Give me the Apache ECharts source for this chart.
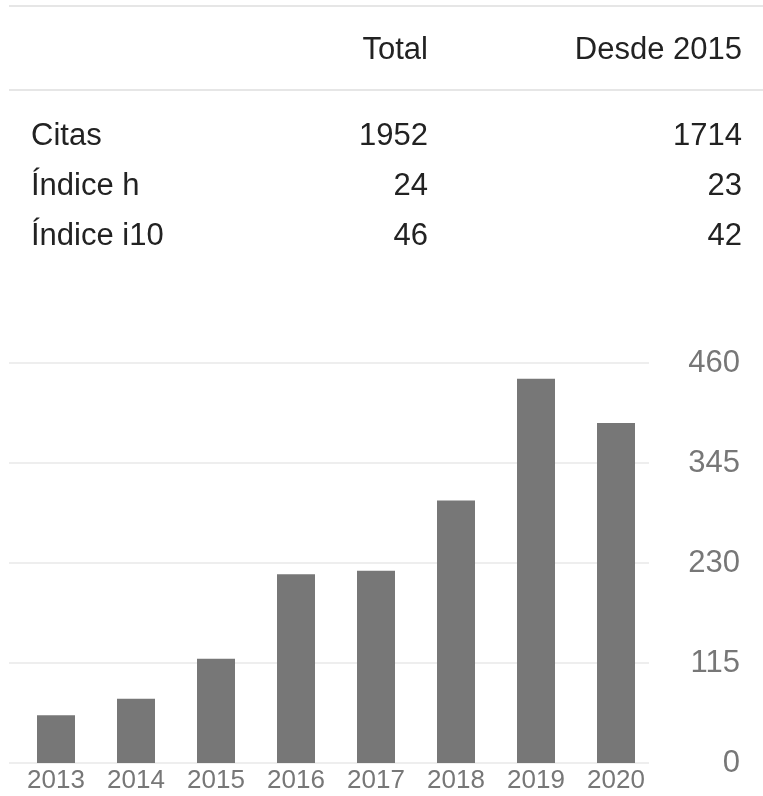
<!DOCTYPE html>
<html>
<head>
<meta charset="utf-8">
<style>
  html, body { margin: 0; padding: 0; background: #fff; }
  #chart { width: 763px; height: 796px; }
</style>
<script src="https://cdn.jsdelivr.net/npm/echarts@6/dist/echarts.min.js"></script>
</head>
<body>
<div id="chart"></div>
<script>
const headers = ["Total", "Desde 2015"];
const rowLabels = ["Citas", "Índice h", "Índice i10"];
const totalVals = [1952, 24, 46];
const sinceVals = [1714, 23, 42];

const years = ["2013", "2014", "2015", "2016", "2017", "2018", "2019", "2020"];
const citations = [55, 74, 120, 217, 221, 302, 442, 391];

const font = '"Liberation Sans", Arial, sans-serif';

let tableGraphics = () => {
    const items = [];
    // rules
    [6, 90].forEach(y => {
        items.push({
            type: "line",
            shape: { x1: 9, y1: y, x2: 763, y2: y },
            style: { stroke: "#e6e6e6", lineWidth: 2 }
        });
    });
    const colX = [428, 742];
    const txt = (text, x, y, align) => ({
        type: "text", x: x, y: y,
        style: { text: text, fill: "#222", font: "31px " + font, textAlign: align, textVerticalAlign: "middle" }
    });
    headers.forEach((h, i) => items.push(txt(h, colX[i], 50, "right")));
    rowLabels.forEach((label, r) => {
        const y = 136 + r * 50;
        items.push(txt(label, 31, y, "left"));
        items.push(txt(String(totalVals[r]), colX[0], y, "right"));
        items.push(txt(String(sinceVals[r]), colX[1], y, "right"));
    });
    return items;
};

const chart = echarts.init(document.querySelector("#chart"), null, { renderer: "canvas" });

chart.setOption({
    animation: false,
    graphic: tableGraphics(),
    grid: [
        // gridlines + y labels
        { left: 9, right: 114, top: 363, bottom: 33 },
        // bars
        { left: 16, right: 107, top: 363, bottom: 33 }
    ],
    xAxis: [
        { type: "category", gridIndex: 0, data: years, show: false },
        {
            type: "category", gridIndex: 1, data: years,
            axisLine: { show: false },
            axisTick: { show: false },
            axisLabel: { color: "#777", fontSize: 26, fontFamily: font, margin: 5, interval: 0 }
        }
    ],
    yAxis: [
        {
            type: "value", gridIndex: 0, position: "right",
            min: 0, max: 460, interval: 115,
            axisLine: { show: false },
            axisTick: { show: false },
            splitLine: { lineStyle: { color: "#e8e8e8", width: 1.5 } },
            axisLabel: { color: "#777", fontSize: 31, fontFamily: font, align: "right", margin: 91, padding: [4, 0, 0, 0] }
        },
        {
            type: "value", gridIndex: 1, min: 0, max: 460, interval: 115, show: false
        }
    ],
    series: [{
        type: "bar",
        xAxisIndex: 1,
        yAxisIndex: 1,
        data: citations,
        barWidth: 38,
        itemStyle: { color: "#777" }
    }]
});

window.onresize = () => { chart.resize() };
</script>
</body>
</html>
